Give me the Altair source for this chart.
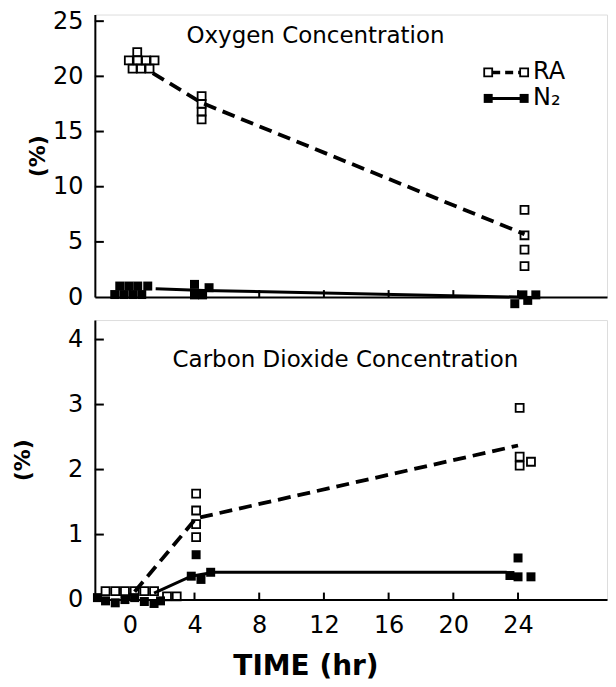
import altair as alt
import pandas as pd

FONT = "DejaVu Sans"

hour_ticks = [0, 4, 8, 12, 16, 20, 24]
o2_ticks = [0, 5, 10, 15, 20, 25]
co2_ticks = [0, 1, 2, 3, 4]
panel_titles = ["Oxygen Concentration", "Carbon Dioxide Concentration"]
legend_labels = ["RA", "N₂"]
y_title = "(%)"
x_title = "TIME (hr)"

# ---- Oxygen panel ----
o2_ra_t = [0.46, -0.06, 0.48, 1.0, 1.53, 0.17, 0.69, 1.22, 4.44, 4.44, 4.44, 4.44, 24.4, 24.4, 24.4, 24.4]
o2_ra_v = [22.2, 21.45, 21.45, 21.45, 21.45, 20.7, 20.7, 20.7, 18.2, 17.5, 16.8, 16.1, 7.9, 5.6, 4.3, 2.8]
o2_ra_line_t = [1.42, 4.44, 24.4]
o2_ra_line_v = [20.3, 17.6, 5.7]

o2_n2_t = [-0.62, -0.06, 0.49, 1.11, -0.93, -0.37, 0.19, 0.74, 4.0, 4.0, 4.5, 4.9, 23.8, 24.3, 24.6, 25.1]
o2_n2_v = [1.0, 1.0, 1.0, 1.0, 0.23, 0.23, 0.23, 0.23, 1.15, 0.2, 0.2, 0.85, -0.6, 0.2, -0.3, 0.2]
o2_n2_line_t = [1.6, 4.6, 24.0]
o2_n2_line_v = [0.75, 0.6, 0.0]

# ---- Carbon dioxide panel ----
co2_ra_t = [-1.5, -0.9, -0.3, 0.3, 0.9, 1.5, 2.3, 2.9, 4.1, 4.1, 4.1, 4.1, 24.1, 24.1, 24.1, 24.8]
co2_ra_v = [0.13, 0.13, 0.13, 0.13, 0.13, 0.13, 0.05, 0.05, 1.63, 1.37, 1.16, 0.96, 2.95, 2.2, 2.06, 2.12]
co2_ra_line_t = [0.3, 4.1, 24.0]
co2_ra_line_v = [0.12, 1.25, 2.37]

co2_n2_t = [-2.0, -1.5, -0.9, -0.3, 0.3, 0.9, 1.5, 1.9, 4.1, 3.8, 4.4, 5.0, 24.0, 23.5, 24.0, 24.8]
co2_n2_v = [0.03, -0.02, -0.05, 0.0, 0.03, -0.03, -0.06, -0.02, 0.69, 0.36, 0.31, 0.42, 0.64, 0.37, 0.35, 0.35]
co2_n2_line_t = [1.5, 3.8, 5.2, 23.3]
co2_n2_line_v = [0.1, 0.36, 0.42, 0.42]

W = 513
XDOM = [-2.16, 29.5]


def df(t, v):
    return pd.DataFrame({"t": t, "v": v})


def make_panel(ra_t, ra_v, ra_lt, ra_lv, n2_t, n2_v, n2_lt, n2_lv,
               ydom, yticks, height, title, title_pos, bottom, legend, ytitle_x):
    xs = alt.Scale(domain=XDOM, nice=False, zero=False)
    ys = alt.Scale(domain=ydom, nice=False, zero=False)
    if bottom:
        xaxis = alt.Axis(values=hour_ticks, ticks=False, labels=True, domain=True, grid=False,
                         title=x_title, labelFontSize=24, labelPadding=14, labelFont=FONT,
                         titleFontSize=28, titleFontWeight="bold", titlePadding=15, titleFont=FONT,
                         titleX=211, titleAlign="center",
                         labelColor="black", titleColor="black", domainColor="black", domainWidth=2)
    else:
        xaxis = alt.Axis(values=hour_ticks, ticks=False, labels=False, domain=True, grid=False,
                         title=None, domainColor="black", domainWidth=2)
    yaxis = alt.Axis(values=yticks, ticks=False, domain=True, grid=False, labelFontSize=24,
                     labelPadding=12, labelFont=FONT, labelColor="black", title=y_title,
                     titleFontSize=22, titleFontWeight="bold", titleFont=FONT, titleColor="black",
                     titleX=ytitle_x, titleY=height / 2, titleBaseline="middle",
                     domainColor="black", domainWidth=2)
    X = alt.X("t:Q", scale=xs, axis=xaxis)
    Y = alt.Y("v:Q", scale=ys, axis=yaxis)

    ra_line = alt.Chart(df(ra_lt, ra_lv)).mark_line(
        color="black", strokeWidth=3.8, strokeDash=[13, 7]).encode(x=X, y=Y)
    n2_line = alt.Chart(df(n2_lt, n2_lv)).mark_line(
        color="black", strokeWidth=3).encode(x=X, y=Y)
    ra_pts = alt.Chart(df(ra_t, ra_v)).mark_point(
        shape="square", filled=False, stroke="black", strokeWidth=1.8, size=64, opacity=1
    ).encode(x=X, y=Y)
    n2_pts = alt.Chart(df(n2_t, n2_v)).mark_point(
        shape="square", filled=True, fill="black", size=81, opacity=1
    ).encode(x=X, y=Y)

    ytick = alt.Chart(pd.DataFrame({"v": [y for y in yticks if y > 0]})).mark_rule(
        color="black", strokeWidth=2).encode(y=Y, x=alt.value(0), x2=alt.value(9))
    xtick = alt.Chart(pd.DataFrame({"t": hour_ticks})).mark_rule(
        color="black", strokeWidth=2).encode(x=X, y=alt.value(height), y2=alt.value(height - 7))

    ttl = alt.Chart(pd.DataFrame({"label": [title]})).mark_text(
        font=FONT, fontSize=23, color="black", align="center", baseline="middle"
    ).encode(text="label:N", x=alt.value(title_pos[0]), y=alt.value(title_pos[1]))

    layers = [ytick, xtick, ra_line, n2_line, ra_pts, n2_pts, ttl]

    if legend:
        lx0, lx1, ly = 394, 430, [58, 84]
        ldf = pd.DataFrame({"label": legend_labels})
        ra_l = alt.Chart(ldf.iloc[[0]]).mark_rule(color="black", strokeWidth=3.5, strokeDash=[8, 5]).encode(
            x=alt.value(lx0 + 4), x2=alt.value(lx1 - 4), y=alt.value(ly[0]))
        n2_l = alt.Chart(ldf.iloc[[1]]).mark_rule(color="black", strokeWidth=3).encode(
            x=alt.value(lx0), x2=alt.value(lx1), y=alt.value(ly[1]))
        ra_s = [alt.Chart(ldf.iloc[[0]]).mark_point(shape="square", filled=False, stroke="black",
                                                     strokeWidth=1.8, size=64, opacity=1).encode(
            x=alt.value(xx), y=alt.value(ly[0])) for xx in (lx0, lx1)]
        n2_s = [alt.Chart(ldf.iloc[[1]]).mark_point(shape="square", filled=True, fill="black",
                                                     size=81, opacity=1).encode(
            x=alt.value(xx), y=alt.value(ly[1])) for xx in (lx0, lx1)]
        ltxt = alt.Chart(pd.DataFrame({"label": legend_labels, "row": [0, 1]})).transform_calculate(
            yy="datum.row == 0 ? %d : %d" % (ly[0], ly[1])
        ).mark_text(font=FONT, fontSize=24, color="black", align="left", baseline="middle").encode(
            text="label:N", x=alt.value(lx1 + 9), y=alt.Y("yy:Q", scale=None))
        layers += [ra_l, n2_l] + ra_s + n2_s + [ltxt]

    return alt.layer(*layers).properties(width=W, height=height)


top = make_panel(o2_ra_t, o2_ra_v, o2_ra_line_t, o2_ra_line_v,
                 o2_n2_t, o2_n2_v, o2_n2_line_t, o2_n2_line_v,
                 [0, 25.6], o2_ticks, 283, panel_titles[0], (221, 21), False, True, -57)
bot = make_panel(co2_ra_t, co2_ra_v, co2_ra_line_t, co2_ra_line_v,
                 co2_n2_t, co2_n2_v, co2_n2_line_t, co2_n2_line_v,
                 [0, 4.3], co2_ticks, 280, panel_titles[1], (251, 40), True, False, -72)

chart = alt.vconcat(top, bot, spacing=23, bounds="flush").resolve_scale(
    y="independent"
).properties(
    padding={"left": 3, "top": 0, "right": 0, "bottom": 0}
).configure_view(stroke=None).configure(background="white")

chart.save("out.html", embed_options={"renderer": "svg", "actions": False})
